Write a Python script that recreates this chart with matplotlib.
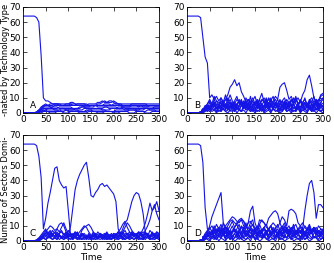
import numpy as np
import matplotlib.pyplot as plt

# time axis, one value every 5 steps (0..300)
time = np.arange(0, 301, 5)

# ---- panel A ----
a_main = [64, 64, 64, 64, 64, 64, 63, 60, 38, 10,
          8, 8, 7, 6, 6, 6, 5, 5, 5, 6,
          6, 6, 5, 5, 5, 5, 5, 5, 5, 6,
          6, 6, 6, 7, 7, 8, 7, 7, 8, 8,
          7, 6, 6, 5, 5, 5, 5, 5, 5, 5,
          5, 5, 5, 4, 4, 4, 5, 5, 5, 5,
          5]
a_bg1 = [0, 0, 0, 0, 0, 0, 0, 2, 4, 5, 6, 5, 5, 5, 6, 6, 6, 5, 5, 5,
         5, 6, 6, 6, 5, 5, 5, 4, 4, 4, 4, 4, 5, 5, 5, 5, 6, 6, 6, 5,
         5, 5, 5, 5, 4, 4, 4, 4, 5, 5, 5, 4, 4, 4, 4, 4, 4, 4, 4, 4, 4]
a_bg2 = [0, 0, 0, 0, 0, 0, 0, 1, 3, 4, 4, 4, 4, 3, 3, 3, 4, 4, 4, 4,
         4, 4, 3, 3, 3, 3, 4, 4, 4, 4, 5, 5, 5, 4, 4, 4, 4, 4, 3, 3,
         3, 3, 3, 3, 4, 4, 4, 4, 4, 4, 4, 4, 5, 5, 5, 5, 5, 5, 5, 5, 5]
a_bg3 = [0, 0, 0, 0, 0, 0, 0, 1, 2, 3, 3, 3, 3, 3, 2, 2, 2, 3, 3, 3,
         3, 3, 3, 2, 2, 2, 2, 3, 3, 3, 3, 3, 3, 3, 3, 2, 2, 2, 2, 3,
         3, 3, 4, 4, 4, 3, 3, 3, 3, 3, 3, 3, 3, 3, 3, 3, 2, 2, 2, 2, 2]
a_bg4 = [0, 0, 0, 0, 0, 0, 1, 2, 2, 2, 2, 2, 2, 2, 2, 2, 1, 1, 1, 2,
         2, 2, 2, 2, 2, 1, 1, 1, 1, 2, 2, 2, 2, 2, 2, 2, 2, 1, 1, 1,
         1, 2, 2, 2, 2, 2, 2, 2, 2, 2, 2, 2, 2, 2, 3, 3, 3, 3, 3, 3, 3]
a_bg5 = [0, 0, 0, 0, 0, 0, 0, 1, 1, 2, 1, 1, 1, 1, 1, 1, 1, 2, 2, 2,
         1, 1, 1, 1, 1, 1, 1, 1, 2, 2, 2, 1, 1, 1, 1, 1, 1, 1, 1, 1,
         1, 1, 1, 1, 1, 1, 1, 2, 2, 2, 1, 1, 1, 1, 1, 2, 2, 2, 2, 1, 1]
a_bg6 = [0, 0, 0, 0, 0, 0, 0, 0, 1, 1, 2, 3, 3, 4, 4, 4, 3, 3, 3, 2,
         2, 2, 2, 3, 3, 4, 4, 4, 3, 3, 3, 3, 3, 3, 3, 3, 4, 4, 4, 4,
         4, 4, 3, 3, 3, 2, 2, 3, 3, 3, 2, 2, 3, 3, 3, 3, 3, 3, 4, 4, 4]
a_bg7 = [0, 0, 0, 0, 0, 0, 0, 0, 0, 1, 1, 1, 0, 0, 0, 1, 1, 1, 0, 0,
         0, 1, 1, 1, 1, 0, 0, 0, 0, 1, 1, 1, 1, 0, 0, 0, 1, 1, 1, 1,
         0, 0, 0, 1, 1, 1, 1, 0, 0, 0, 1, 1, 1, 1, 0, 0, 0, 1, 1, 1, 1]
a_bg8 = [0, 0, 0, 0, 0, 0, 0, 1, 3, 5, 5, 5, 4, 4, 5, 5, 5, 5, 5, 5,
         5, 5, 5, 5, 6, 6, 6, 6, 6, 5, 5, 5, 5, 5, 5, 5, 5, 5, 5, 5,
         6, 6, 6, 6, 5, 5, 5, 5, 6, 6, 6, 6, 6, 6, 6, 5, 5, 5, 5, 5, 5]
a_bg9 = [0, 0, 0, 0, 0, 0, 0, 1, 2, 4, 5, 5, 6, 6, 6, 6, 6, 6, 6, 6,
         6, 7, 7, 6, 6, 6, 6, 6, 5, 5, 5, 5, 5, 6, 6, 7, 8, 7, 7, 7,
         8, 7, 6, 6, 6, 6, 6, 6, 6, 6, 6, 6, 6, 6, 6, 6, 6, 6, 6, 6, 6]

# ---- panel B ----
b_main = [64, 64, 64, 64, 64, 64, 63, 50, 37, 33,
          10, 12, 9, 11, 8, 10, 7, 9, 8, 12,
          8, 6, 9, 7, 5, 8, 6, 9, 7, 10,
          6, 8, 5, 9, 7, 6, 10, 8, 7, 9,
          6, 8, 7, 5, 9, 6, 8, 7, 10, 6,
          8, 7, 9, 6, 8, 10, 7, 9, 6, 11,
          12]
b_ex1 = [0, 0, 0, 0, 0, 0, 0, 1, 3, 2, 4, 6, 5, 8, 7, 6, 5, 9, 12, 17,
         19, 22, 18, 20, 14, 11, 7, 9, 6, 8, 5, 7, 4, 6, 3, 5, 4, 6, 3, 5,
         4, 6, 5, 3, 6, 4, 5, 3, 4, 6, 3, 5, 4, 6, 3, 5, 2, 4, 6, 3, 5]
b_ex2 = [0, 0, 0, 0, 0, 0, 0, 0, 2, 3, 5, 4, 6, 3, 5, 7, 4, 6, 3, 5,
         7, 4, 6, 8, 5, 7, 4, 6, 8, 5, 7, 9, 6, 8, 10, 7, 9, 6, 8, 11,
         9, 17, 19, 20, 15, 9, 11, 7, 9, 6, 8, 5, 7, 4, 6, 8, 5, 7, 4, 6, 4]
b_ex3 = [0, 0, 0, 0, 0, 0, 0, 1, 2, 4, 3, 5, 4, 6, 5, 3, 6, 4, 5, 7,
         5, 3, 6, 4, 7, 5, 3, 6, 4, 5, 7, 4, 6, 3, 5, 8, 4, 6, 5, 7,
         4, 6, 8, 5, 7, 4, 9, 6, 8, 10, 7, 12, 15, 22, 25, 18, 10, 7, 9, 8, 10]
b_bg1 = [0, 0, 0, 0, 0, 0, 0, 2, 4, 6, 8, 5, 7, 3, 6, 4, 8, 2, 5, 7,
         3, 6, 2, 5, 8, 4, 7, 3, 6, 2, 5, 8, 3, 6, 4, 9, 2, 5, 7, 3,
         6, 2, 5, 8, 3, 7, 4, 6, 2, 5, 8, 3, 6, 4, 7, 2, 5, 8, 3, 6, 4]
b_bg2 = [0, 0, 0, 0, 0, 0, 1, 3, 2, 4, 2, 6, 3, 1, 5, 2, 7, 3, 6, 1,
         4, 2, 6, 3, 1, 5, 3, 7, 2, 4, 1, 6, 3, 5, 2, 4, 7, 1, 3, 6,
         2, 5, 1, 4, 6, 2, 3, 7, 1, 4, 2, 6, 3, 1, 5, 3, 7, 2, 4, 1, 3]
b_bg3 = [0, 0, 0, 0, 0, 0, 0, 1, 3, 5, 2, 4, 7, 1, 3, 5, 2, 6, 4, 3,
         6, 1, 4, 2, 5, 3, 6, 2, 4, 1, 3, 5, 2, 6, 1, 4, 3, 5, 2, 7,
         4, 1, 3, 6, 2, 5, 1, 4, 3, 6, 1, 4, 2, 5, 3, 1, 4, 6, 2, 5, 2]
b_bg4 = [0, 0, 0, 0, 0, 0, 0, 0, 1, 2, 1, 3, 2, 4, 1, 2, 3, 1, 2, 4,
         2, 1, 3, 2, 1, 4, 2, 3, 1, 2, 4, 1, 2, 3, 1, 2, 4, 1, 3, 2,
         1, 3, 2, 4, 1, 2, 3, 1, 2, 4, 1, 2, 3, 1, 4, 2, 1, 3, 2, 1, 2]
b_bg5 = [0, 0, 0, 0, 0, 0, 0, 2, 5, 3, 7, 4, 9, 5, 3, 8, 6, 4, 10, 5,
         3, 7, 4, 9, 6, 3, 8, 5, 11, 4, 7, 3, 9, 5, 8, 4, 6, 10, 3, 7,
         5, 9, 4, 7, 3, 8, 5, 10, 6, 4, 9, 5, 7, 3, 8, 6, 4, 9, 5, 7, 9]
b_bg6 = [0, 0, 0, 0, 0, 0, 0, 1, 2, 1, 3, 1, 2, 0, 2, 1, 3, 1, 0, 2,
         1, 3, 0, 2, 1, 2, 0, 3, 1, 2, 0, 2, 1, 3, 0, 1, 2, 0, 3, 1,
         2, 0, 1, 3, 1, 2, 0, 2, 1, 3, 0, 2, 1, 0, 3, 1, 2, 0, 2, 1, 0]
b_bg7 = [0, 0, 0, 0, 0, 0, 0, 1, 4, 6, 9, 6, 11, 8, 5, 10, 7, 12, 6, 9,
         5, 8, 11, 6, 9, 4, 10, 7, 5, 8, 11, 6, 9, 13, 7, 10, 5, 8, 11, 6,
         9, 5, 8, 10, 6, 4, 9, 7, 11, 5, 8, 6, 10, 4, 9, 7, 11, 5, 8, 12, 13]
b_bg8 = [0, 0, 0, 0, 0, 0, 1, 2, 3, 5, 4, 2, 6, 3, 5, 1, 4, 6, 2, 5,
         3, 6, 4, 2, 5, 7, 3, 5, 2, 4, 6, 3, 5, 1, 4, 6, 2, 5, 3, 6,
         4, 2, 5, 3, 7, 4, 2, 6, 3, 5, 4, 7, 2, 5, 3, 6, 4, 2, 5, 7, 6]

# ---- panel C ----
c_main = [64, 64, 64, 64, 64, 64, 63, 56, 42, 8,
          15, 25, 32, 40, 48, 49, 40, 37, 35, 36,
          20, 3, 2, 2, 1, 2, 1, 2, 3, 2,
          1, 2, 1, 2, 3, 2, 1, 2, 1, 2,
          2, 1, 2, 3, 2, 1, 2, 1, 2, 3,
          2, 1, 2, 1, 3, 2, 1, 2, 1, 2,
          1]
c_ex1 = [0, 0, 0, 0, 0, 0, 0, 1, 2, 3, 5, 4, 6, 5, 3, 4, 5, 6, 4, 5,
         3, 10, 22, 34, 40, 44, 47, 50, 52, 42, 30, 29, 32, 34, 37, 38, 36, 37, 35, 33,
         31, 26, 8, 4, 3, 5, 4, 3, 5, 4, 3, 5, 4, 3, 5, 4, 3, 4, 5, 3, 4]
c_ex2 = [0, 0, 0, 0, 0, 0, 0, 0, 1, 2, 3, 2, 4, 3, 2, 3, 4, 2, 3, 2,
         4, 3, 2, 3, 4, 2, 3, 2, 4, 3, 2, 3, 4, 2, 3, 2, 4, 3, 2, 3,
         4, 3, 5, 4, 8, 12, 14, 20, 26, 30, 32, 31, 26, 18, 5, 3, 4, 3, 2, 4, 3]
c_ex3 = [0, 0, 0, 0, 0, 0, 0, 1, 2, 4, 6, 8, 10, 9, 7, 8, 11, 12, 10, 6,
         4, 3, 5, 4, 2, 3, 4, 5, 3, 2, 3, 4, 2, 3, 5, 4, 3, 2, 4, 3,
         2, 4, 3, 5, 6, 9, 12, 10, 7, 5, 4, 6, 5, 8, 12, 18, 25, 20, 22, 26, 20]
c_ex4 = [0, 0, 0, 0, 0, 0, 0, 0, 2, 3, 5, 6, 4, 7, 5, 8, 6, 9, 12, 8,
         5, 4, 3, 5, 4, 6, 8, 10, 9, 6, 4, 3, 5, 4, 3, 4, 5, 3, 4, 3,
         5, 4, 3, 6, 4, 3, 5, 4, 6, 5, 4, 6, 5, 4, 7, 10, 14, 20, 24, 18, 14]
c_bg1 = [0, 0, 0, 0, 0, 0, 0, 2, 4, 6, 8, 5, 7, 4, 6, 3, 5, 7, 4, 6,
         3, 5, 2, 4, 6, 3, 5, 4, 2, 5, 3, 6, 4, 2, 5, 3, 4, 6, 3, 5,
         2, 4, 6, 3, 5, 7, 4, 6, 3, 5, 4, 2, 5, 3, 6, 4, 2, 5, 3, 6, 4]
c_bg2 = [0, 0, 0, 0, 0, 0, 0, 1, 2, 4, 3, 5, 2, 4, 3, 1, 4, 2, 3, 5,
         2, 4, 1, 3, 5, 2, 4, 3, 1, 4, 2, 3, 5, 1, 3, 4, 2, 5, 3, 1,
         4, 2, 3, 5, 1, 4, 2, 3, 6, 3, 5, 2, 4, 1, 3, 5, 2, 4, 3, 5, 2]
c_bg3 = [0, 0, 0, 0, 0, 0, 1, 2, 3, 2, 1, 3, 2, 1, 2, 3, 1, 2, 1, 3,
         2, 1, 2, 3, 1, 2, 1, 3, 2, 1, 2, 1, 3, 2, 1, 2, 3, 1, 2, 1,
         3, 2, 1, 2, 3, 1, 2, 3, 2, 1, 2, 3, 1, 2, 1, 3, 2, 1, 3, 2, 1]
c_bg4 = [0, 0, 0, 0, 0, 0, 0, 1, 3, 5, 7, 4, 2, 5, 3, 6, 4, 2, 5, 3,
         7, 5, 3, 6, 4, 2, 5, 3, 1, 4, 2, 5, 3, 6, 4, 2, 3, 5, 2, 4,
         3, 5, 2, 4, 6, 3, 5, 2, 4, 3, 5, 3, 6, 2, 4, 5, 3, 6, 4, 2, 5]
c_bg5 = [0, 0, 0, 0, 0, 0, 0, 0, 1, 2, 1, 2, 3, 1, 2, 1, 3, 2, 1, 2,
         1, 2, 1, 3, 2, 1, 2, 1, 2, 3, 1, 2, 1, 2, 3, 1, 2, 1, 2, 1,
         2, 3, 1, 2, 1, 2, 3, 1, 2, 1, 3, 1, 2, 1, 2, 3, 1, 2, 1, 2, 3]
c_bg6 = [0, 0, 0, 0, 0, 0, 0, 1, 2, 3, 4, 3, 5, 4, 3, 5, 4, 3, 2, 4,
         3, 5, 4, 6, 5, 3, 7, 9, 10, 11, 9, 6, 4, 3, 5, 4, 3, 5, 4, 3,
         5, 4, 6, 8, 11, 13, 9, 6, 4, 5, 3, 5, 4, 6, 5, 3, 7, 5, 4, 6, 5]

# ---- panel D ----
d_main = [64, 64, 64, 64, 64, 64, 63, 52, 22, 8,
          6, 4, 7, 3, 5, 8, 4, 6, 3, 7,
          5, 8, 4, 6, 3, 7, 5, 4, 8, 3,
          6, 4, 7, 5, 3, 6, 8, 4, 5, 7,
          3, 6, 4, 8, 5, 7, 3, 6, 4, 5,
          7, 4, 6, 3, 8, 5, 7, 4, 6, 3,
          5]
d_ex1 = [0, 0, 0, 0, 0, 0, 0, 1, 3, 5, 10, 16, 20, 24, 28, 32, 12, 6, 8, 5,
         7, 9, 12, 14, 15, 13, 10, 8, 12, 14, 6, 8, 5, 7, 9, 6, 8, 5, 7, 6,
         8, 5, 7, 9, 6, 8, 5, 7, 6, 8, 5, 7, 6, 8, 5, 7, 6, 4, 7, 5, 6]
d_ex2 = [0, 0, 0, 0, 0, 0, 0, 0, 2, 4, 6, 5, 8, 7, 9, 6, 8, 10, 12, 14,
         16, 15, 13, 12, 14, 10, 8, 12, 20, 23, 12, 8, 14, 13, 12, 10, 15, 17, 19, 20,
         18, 12, 8, 10, 8, 6, 9, 7, 5, 8, 6, 8, 5, 7, 9, 6, 8, 5, 7, 6, 7]
d_ex3 = [0, 0, 0, 0, 0, 0, 0, 1, 2, 3, 5, 4, 6, 8, 7, 9, 6, 8, 10, 13,
         14, 12, 11, 13, 14, 13, 9, 12, 13, 10, 9, 7, 11, 14, 12, 9, 8, 10, 12, 10,
         9, 12, 16, 14, 10, 20, 21, 20, 18, 12, 10, 12, 9, 7, 8, 6, 9, 7, 5, 8, 6]
d_ex4 = [0, 0, 0, 0, 0, 0, 0, 0, 1, 3, 4, 6, 5, 7, 4, 6, 8, 5, 7, 4,
         6, 8, 5, 7, 9, 6, 4, 7, 5, 8, 6, 4, 7, 5, 8, 6, 4, 7, 9, 6,
         5, 7, 4, 6, 8, 5, 7, 9, 6, 8, 10, 8, 20, 30, 38, 40, 32, 15, 24, 24, 22]
d_bg1 = [0, 0, 0, 0, 0, 0, 0, 2, 4, 6, 5, 7, 3, 6, 8, 4, 7, 5, 9, 3,
         6, 8, 4, 7, 5, 9, 3, 6, 8, 4, 7, 5, 3, 6, 9, 4, 7, 5, 8, 3,
         6, 4, 8, 5, 7, 3, 9, 6, 4, 7, 5, 8, 3, 6, 4, 7, 9, 5, 3, 6, 4]
d_bg2 = [0, 0, 0, 0, 0, 0, 1, 3, 2, 4, 2, 5, 3, 1, 4, 2, 6, 3, 5, 1,
         4, 2, 5, 3, 1, 6, 3, 4, 2, 5, 1, 4, 3, 6, 2, 5, 1, 4, 3, 2,
         5, 1, 4, 2, 6, 3, 1, 5, 2, 4, 3, 1, 5, 2, 4, 6, 2, 3, 1, 4, 2]
d_bg3 = [0, 0, 0, 0, 0, 0, 0, 1, 3, 5, 3, 6, 2, 4, 7, 3, 5, 2, 6, 4,
         2, 5, 7, 3, 6, 2, 4, 5, 3, 7, 4, 2, 6, 3, 5, 7, 2, 4, 6, 3,
         5, 7, 3, 4, 2, 6, 5, 3, 7, 4, 2, 6, 4, 3, 7, 5, 2, 4, 6, 3, 5]
d_bg4 = [0, 0, 0, 0, 0, 0, 0, 0, 1, 2, 1, 3, 2, 1, 3, 2, 4, 1, 2, 3,
         1, 2, 4, 1, 3, 2, 1, 3, 2, 4, 2, 1, 3, 2, 4, 1, 2, 3, 1, 2,
         4, 2, 1, 3, 2, 4, 1, 2, 3, 1, 2, 4, 1, 3, 2, 1, 3, 2, 4, 1, 3]
d_bg5 = [0, 0, 0, 0, 0, 0, 0, 2, 5, 7, 9, 6, 10, 5, 8, 11, 6, 9, 4, 7,
         10, 6, 8, 11, 5, 9, 7, 4, 10, 6, 8, 5, 11, 7, 9, 4, 8, 10, 6, 9,
         5, 8, 10, 6, 9, 4, 7, 11, 5, 8, 6, 9, 4, 8, 10, 5, 7, 9, 6, 4, 8]
d_bg6 = [0, 0, 0, 0, 0, 0, 0, 1, 2, 1, 0, 2, 1, 3, 0, 2, 1, 0, 3, 1,
         2, 0, 1, 3, 2, 0, 1, 2, 0, 3, 1, 2, 0, 1, 3, 2, 0, 1, 2, 0,
         3, 1, 2, 0, 1, 2, 3, 0, 1, 2, 0, 3, 1, 2, 0, 1, 3, 2, 0, 1, 2]
d_bg7 = [0, 0, 0, 0, 0, 0, 0, 1, 3, 6, 8, 10, 7, 11, 8, 6, 12, 9, 7, 10,
         13, 9, 11, 7, 10, 8, 12, 6, 9, 11, 7, 10, 8, 5, 9, 11, 7, 10, 6, 8,
         11, 7, 9, 12, 8, 10, 6, 9, 11, 7, 9, 6, 10, 8, 11, 7, 9, 6, 10, 8, 7]
d_bg8 = [0, 0, 0, 0, 0, 0, 1, 2, 4, 3, 5, 2, 6, 4, 3, 5, 7, 2, 4, 6,
         3, 5, 2, 6, 4, 3, 7, 5, 2, 4, 6, 3, 5, 2, 4, 7, 3, 6, 4, 2,
         5, 3, 6, 4, 2, 5, 7, 3, 4, 6, 2, 5, 3, 6, 4, 2, 5, 7, 3, 5, 4]

panels = {
    'A': [a_bg1, a_bg2, a_bg3, a_bg4, a_bg5, a_bg6, a_bg7, a_bg8, a_bg9, a_main],
    'B': [b_bg1, b_bg2, b_bg3, b_bg4, b_bg5, b_bg6, b_bg7, b_bg8, b_ex1, b_ex2, b_ex3, b_main],
    'C': [c_bg1, c_bg2, c_bg3, c_bg4, c_bg5, c_bg6, c_ex1, c_ex2, c_ex3, c_ex4, c_main],
    'D': [d_bg1, d_bg2, d_bg3, d_bg4, d_bg5, d_bg6, d_bg7, d_bg8, d_ex1, d_ex2, d_ex3, d_ex4, d_main],
}

plt.rcParams['font.size'] = 6.5
plt.rcParams['xtick.direction'] = 'in'
plt.rcParams['ytick.direction'] = 'in'
plt.rcParams['xtick.top'] = True
plt.rcParams['ytick.right'] = True

fig = plt.figure(figsize=(3.34, 2.63), dpi=100)
w, h = 136 / 334, 106 / 263
boxes = {'A': [23 / 334, 1 - 113 / 263, w, h],
         'B': [187 / 334, 1 - 113 / 263, w, h],
         'C': [23 / 334, 1 - 241 / 263, w, h],
         'D': [187 / 334, 1 - 241 / 263, w, h]}

for name, series in panels.items():
    ax = fig.add_axes(boxes[name])
    for s in series:
        ax.plot(time, s, color='#1414e6', lw=0.8)
    ax.set_xlim(0, 300)
    ax.set_ylim(0, 70)
    ax.set_xticks(range(0, 301, 50))
    ax.set_yticks(range(0, 71, 10))
    ax.tick_params(length=3, width=0.5, pad=1.5, labelsize=6.5)
    for sp in ax.spines.values():
        sp.set_linewidth(0.6)
    ax.text(0.05, 0.05, name, transform=ax.transAxes, fontsize=6.5,
            bbox=dict(fc='white', ec='none', pad=0.8))
    if name in ('C', 'D'):
        ax.set_xlabel('Time', labelpad=1)

# the y label is split over the two rows
fig.text(1.5 / 334, 1 - 60 / 263, '-nated by Technology Type', rotation=90,
         ha='left', va='center', fontsize=6)
fig.text(1.5 / 334, 1 - 190 / 263, 'Number of Sectors Domi-', rotation=90,
         ha='left', va='center', fontsize=6)

fig.savefig('out.png', dpi=100)
